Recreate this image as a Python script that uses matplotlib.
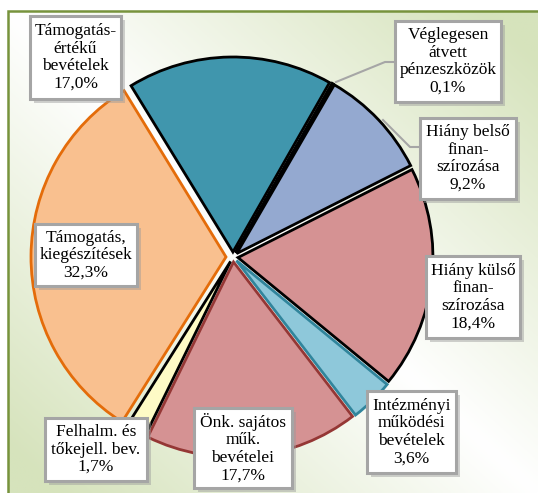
"""Pie chart of budget revenue sources (percent shares) with boxed labels."""

import numpy as np
import matplotlib.pyplot as plt
from matplotlib.patches import Rectangle

# data
categories = [
    "Támogatás-\nértékű\nbevételek",
    "Véglegesen\nátvett\npénzeszközök",
    "Hiány belső\nfinan-\nszírozása",
    "Hiány külső\nfinan-\nszírozása",
    "Intézményi\nműködési\nbevételek",
    "Önk. sajátos\nműk.\nbevételei",
    "Felhalm. és\ntőkejell. bev.",
    "Támogatás,\nkiegészítések",
]
shares = [17.0, 0.1, 9.2, 18.4, 3.6, 17.7, 1.7, 32.3]

# styles
face_colors = ["#4096ad", "#4096ad", "#94a9d0", "#d59293",
               "#8ec8da", "#d59293", "#fefbc6", "#f9c08f"]
edge_colors = ["black", "black", "black", "black",
               "#31859c", "#953735", "black", "#e46c0a"]
# explode offsets in pixels (pie is drawn in pixel units)
explode = [5, 5, 5, 5, 5, 5, 5, 7]

# label box layout in pixels: (center x, center y from top, width, height)
boxes = [
    (75.5, 57.5, 91, 83),
    (448, 61.5, 106, 81),
    (468, 158.5, 96, 81),
    (473, 297, 94, 82),
    (411.5, 432, 89, 82),
    (243, 448, 98, 80),
    (96, 449.5, 102, 63),
    (86, 255, 102, 62),
]
# leader lines (pixel coords from top)
leaders = [
    [(336, 82), (385, 62), (395, 62)],
    [(383, 120), (410, 147), (420, 147)],
]

W, H = 538, 493
fig = plt.figure(figsize=(W / 100, H / 100), dpi=100)
ax = fig.add_axes([0, 0, 1, 1])

# background: white on the main diagonal, soft green towards other corners
xx, yy = np.meshgrid(np.linspace(0, 1, 200), np.linspace(0, 1, 200))
wgt = np.clip(np.abs(xx - yy) * 1.1, 0, 1)[..., None]
white = np.array([1.0, 1.0, 1.0])
green = np.array([214, 227, 188]) / 255
bg = white * (1 - wgt) + green * wgt
ax.imshow(bg, extent=(8, W, 0, H - 11), origin="upper", zorder=0, aspect="auto")
ax.plot([8, 8, W], [0, H - 11, H - 11], color="#77933c", lw=1.8, zorder=1,
        solid_joinstyle="miter")

wedges, _ = ax.pie(shares, explode=explode, colors=face_colors,
                   startangle=121.5, counterclock=False,
                   center=(233, H - 257), radius=195, frame=True,
                   wedgeprops=dict(linewidth=2))
for w, ec in zip(wedges, edge_colors):
    w.set_edgecolor(ec)
    w.set_zorder(2)
ax.set_xlim(0, W)
ax.set_ylim(0, H)
ax.set_aspect("equal")
ax.axis("off")

for pts in leaders:
    xs = [p[0] for p in pts]
    ys = [H - p[1] for p in pts]
    ax.plot(xs, ys, color="#a6a6a6", lw=1.5, zorder=3)

for name, val, (cx, cy, bw, bh) in zip(categories, shares, boxes):
    cy = H - cy
    ax.add_patch(Rectangle((cx - bw / 2 + 4, cy - bh / 2 - 4), bw, bh,
                           facecolor="#9a9a9a", alpha=0.45, edgecolor="none",
                           zorder=4))
    ax.add_patch(Rectangle((cx - bw / 2, cy - bh / 2), bw, bh,
                           facecolor="white", edgecolor="#a5a5a5", lw=2.2,
                           zorder=5))
    label = name + "\n" + f"{val:.1f}".replace(".", ",") + "%"
    ax.text(cx, cy, label, ha="center", va="center", fontsize=12.5,
            family="Liberation Serif", linespacing=1.12, zorder=6)

fig.savefig("out.png", dpi=100)
